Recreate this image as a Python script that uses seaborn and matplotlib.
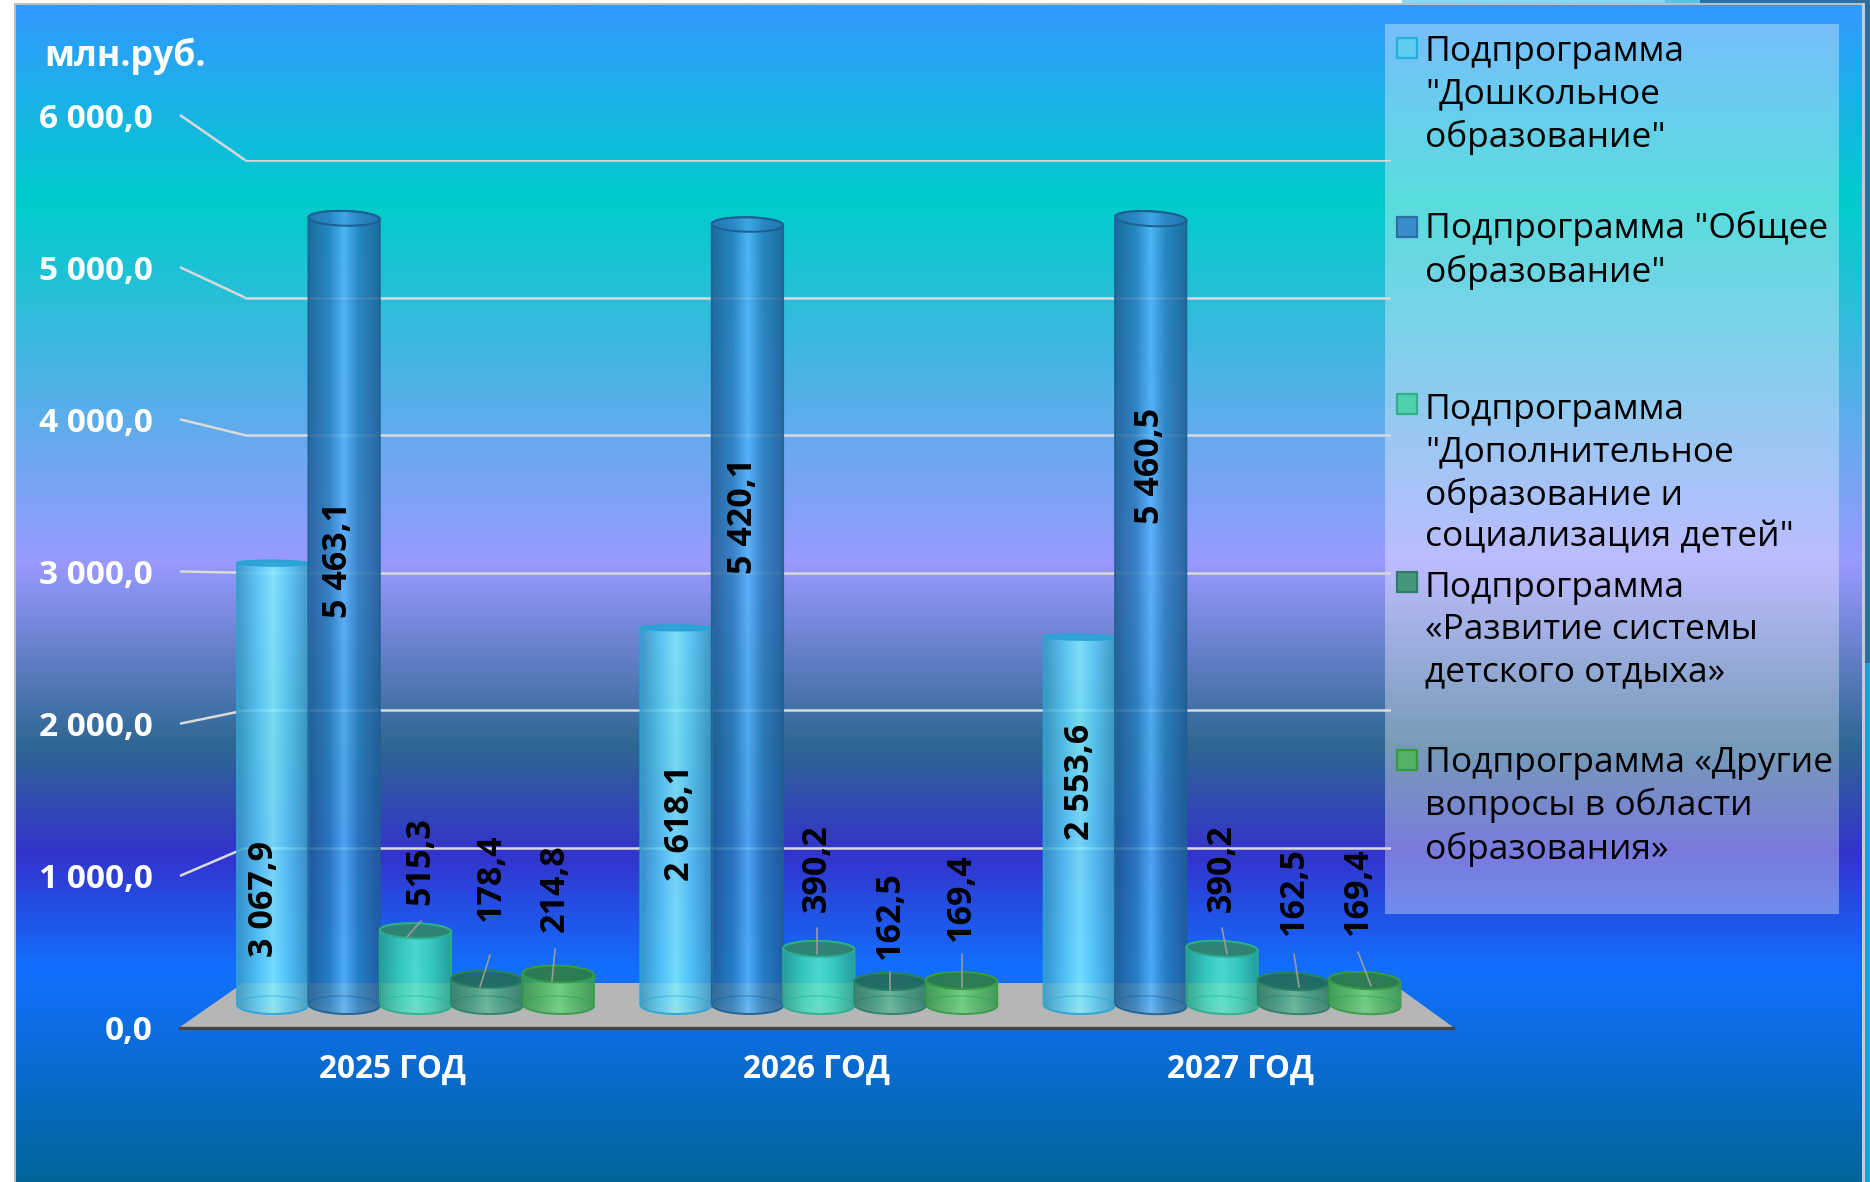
import numpy as np
import pandas as pd
import matplotlib
matplotlib.use("Agg")
import matplotlib.pyplot as plt
from matplotlib.colors import LinearSegmentedColormap, to_rgb, to_rgba
from matplotlib.patches import Polygon, PathPatch, Rectangle
from matplotlib.path import Path
import seaborn as sns

# ---------- data ----------
years = ["2025 ГОД", "2026 ГОД", "2027 ГОД"]
programs = [
    'Подпрограмма\n"Дошкольное\nобразование"',
    'Подпрограмма "Общее\nобразование"',
    'Подпрограмма\n"Дополнительное\nобразование и\nсоциализация детей"',
    'Подпрограмма\n«Развитие системы\nдетского отдыха»',
    'Подпрограмма «Другие\nвопросы в области\nобразования»',
]
values_preschool = [3067.9, 2618.1, 2553.6]
values_general = [5463.1, 5420.1, 5460.5]
values_additional = [515.3, 390.2, 390.2]
values_recreation = [178.4, 162.5, 162.5]
values_other = [214.8, 169.4, 169.4]
axis_ticks = [0, 1000, 2000, 3000, 4000, 5000, 6000]
axis_tick_labels = ["0,0", "1 000,0", "2 000,0", "3 000,0", "4 000,0", "5 000,0", "6 000,0"]
unit_label = "млн.руб."

# ---------- layout and style (pixels of the 1870x1182 picture) ----------
W, H = 1870, 1182
FONT = "Open Sans"
series_values = [values_preschool, values_general, values_additional, values_recreation, values_other]
base_colors = ["#5CD0F8", "#2A7FC0", "#3FD8BA", "#3F9A80", "#4DB862"]
edge_colors = ["#2AA4D4", "#1E5F92", "#2BAE8C", "#2C7F66", "#379A48"]
mid_colors = ["#86F0FF", "#59B8FF", "#55EACB", "#5FB89A", "#68D47C"]
dark_colors = ["#3B9CC8", "#1F5F96", "#27A890", "#2A7C68", "#349A4E"]
top_colors = ["#2AA0D8", "#2F86CB", "#2E8070", "#1F6A62", "#2A7A50"]
top_alphas = [0.9, 0.35, 0.95, 0.95, 0.95]
swatch_faces = ["#5FCDF0", "#3A8DC8", "#4FD0AE", "#45967C", "#55B068"]
swatch_edges = ["#22B0E0", "#2A6FA8", "#2FB08A", "#2E7E65", "#35993F"]
legend_baselines = [60, 238, 416, 594, 772]
legend_swatch_tops = [38, 217, 394, 572, 750]
tilt_by_year = [1.5, 1.0, 3.0]
tilt_by_series = [0.3, 1, 1, 1, 1]
# label centres, (year, series) order
label_xy = [
    [(264, 899), (338, 560), (420, 861), (491, 877), (555, 888)],
    [(680, 823), (743, 516), (817, 868), (890, 915), (961, 897)],
    [(1080, 782), (1150, 466), (1222, 868), (1294, 891), (1358, 891)],
]
leaders = [
    ((407, 937), (421, 921)), ((480, 987), (490, 955)), ((552, 981), (555, 949)),
    ((817, 954), (817, 928)), ((890, 990), (890, 972)), ((962, 987), (962, 954)),
    ((1227, 954), (1222, 928)), ((1299, 987), (1294, 954)), ((1371, 986), (1358, 952)),
]
grad_pos = [5, 200, 562, 746, 855, 972, 1182]
grad_col = ["#3399FF", "#00CCCC", "#9999FF", "#2E6792", "#3333CC", "#1170FF", "#006699"]

sns.set_theme(style="white")
plt.rcParams["font.family"] = [FONT, "DejaVu Sans"]

fig = plt.figure(figsize=(W / 100, H / 100), dpi=100, facecolor="white")


def px_axes(x0, x1, ytop, ybot, z):
    ax = fig.add_axes([x0 / W, 1 - ybot / H, (x1 - x0) / W, (ybot - ytop) / H], zorder=z)
    ax.patch.set_alpha(0)
    return ax


# ---------- background ----------
bg = px_axes(0, W, 0, H, 0)
bg.set_axis_off()
stops = [(p - grad_pos[0]) / (grad_pos[-1] - grad_pos[0]) for p in grad_pos]
cmap = LinearSegmentedColormap.from_list("ocean", list(zip(stops, grad_col)), N=512)
bg.imshow(np.linspace(0, 1, 600)[:, None], cmap=cmap, aspect="auto",
          extent=(15, 1863, grad_pos[-1], grad_pos[0]), interpolation="bilinear")
bg.add_patch(Rectangle((14, 3), 2, H, fc="#BEBEBE", ec="none"))
bg.add_patch(Rectangle((14, 3), 1850, 2, fc="#BEBEBE", ec="none"))
bg.add_patch(Rectangle((1862, 3), 2.5, H, fc="#C4CCD0", ec="none"))
bg.add_patch(Rectangle((1864.5, 0), 6, 663, fc="#2B6E9F", ec="none"))
bg.add_patch(Rectangle((1864.5, 663), 6, H, fc="#1E9FD8", ec="none"))
bg.add_patch(Rectangle((1402, 0), 263, 3, fc="#8AD6EC", ec="none"))
bg.add_patch(Rectangle((1665, 0), 35, 3, fc="#5FC3E0", ec="none"))
bg.add_patch(Rectangle((1700, 0), 170, 3, fc="#2E6F9E", ec="none"))
# legend panel
bg.add_patch(Rectangle((1385, 24), 454, 890, fc="white", alpha=0.35, ec="none"))
# floor
bg.add_patch(Polygon([(180, 1027), (243, 983), (1392, 983), (1453, 1027)], fc="#B6B6B6", ec="none"))
bg.set_xlim(0, W)
bg.set_ylim(H, 0)

# ---------- back wall with its grid lines ----------
wall = px_axes(245, 1391, 160, 985.6, 1)
wall.set_ylim(0, 6000)
wall.set_xlim(0, 1)
wall.set_yticks(axis_ticks[1:])
wall.set_xticks([])
wall.tick_params(left=False, labelleft=False)
wall.grid(axis="y", color="#DADADA", lw=1.8)
sns.despine(ax=wall, left=True, bottom=True)

# ---------- front axis: tick labels and category labels ----------
front = px_axes(180, 1453, 115, 1028, 5)
front.set_xlim(-0.5, 2.5)
front.set_ylim(0, 6000)
front.set_xticks(range(3))
front.set_xticklabels(years, fontsize=22.7, fontweight="bold", color="white")
front.set_yticks(axis_ticks)
front.set_yticklabels(axis_tick_labels, fontsize=24, fontweight="bold", color="white")
front.tick_params(axis="x", length=0, pad=18)
front.tick_params(axis="y", length=0, pad=19.5)
sns.despine(ax=front, left=True)
front.spines["bottom"].set_color("#444444")
front.spines["bottom"].set_linewidth(2.4)

# diagonal connectors between the front axis and the back wall
for v in axis_ticks[1:]:
    p0 = front.transData.transform((-0.5, v))
    p1 = wall.transData.transform((0, v))
    bg.plot([p0[0], p1[0]], [H - p0[1], H - p1[1]], color="#DADADA", lw=1.8, solid_capstyle="butt")

# ---------- bars through seaborn ----------
df = pd.DataFrame({
    "year": np.tile(years, len(programs)),
    "program": np.repeat(programs, len(years)),
    "value": np.concatenate(series_values),
})
barax = px_axes(213.85, 1423.75, 141, 1005, 3)
sns.barplot(data=df, x="year", y="value", hue="program", order=years, hue_order=programs,
            palette=dict(zip(programs, base_colors)), width=0.885, gap=0, saturation=1,
            legend=False, ax=barax)
barax.set_xlim(-0.5, 2.5)
barax.set_ylim(0, 6000)
barax.set_axis_off()

# ---------- cylinder shading derived from the seaborn bars ----------
over = px_axes(0, W, 0, H, 4)
over.set_axis_off()
over.set_xlim(0, W)
over.set_ylim(H, 0)


def ellipse_pts(cx, cy, a, b, deg, t0, t1, n=48):
    t = np.linspace(t0, t1, n)
    th = np.radians(deg)
    return np.c_[cx + a * np.cos(t) * np.cos(th) - b * np.sin(t) * np.sin(th),
                 cy + a * np.cos(t) * np.sin(th) + b * np.sin(t) * np.cos(th)]


def rim_half(v):
    return max(2.6, 9.0 * abs(v - 3000) / 3000)


bars_by_series = [c.patches for c in barax.containers]
for yi in range(len(years)):
    for si in range(len(programs)):
        bar = bars_by_series[si][yi]
        bar.set_alpha(0.3)
        bar.set_edgecolor("none")
        v = bar.get_height()
        (x0, ybase), (x1, ytop) = barax.transData.transform(
            [(bar.get_x(), 0), (bar.get_x() + bar.get_width(), v)])
        ybase, ytop = H - ybase, H - ytop
        cx, a = (x0 + x1) / 2, (x1 - x0) / 2
        deg = tilt_by_year[yi] * tilt_by_series[si]
        bb, bt = 9.0, rim_half(v)
        outline = np.vstack([ellipse_pts(cx, ytop, a, bt, deg, np.pi, 2 * np.pi),
                             ellipse_pts(cx, ybase, a, bb, deg, 0, np.pi)])
        clip = PathPatch(Path(np.vstack([outline, outline[0]]), closed=True), fc="none", ec="none")
        over.add_patch(clip)
        # horizontal shading across the cylinder
        xs = np.array([0, 0.05, 0.3, 0.5, 0.7, 0.95, 1.0])
        cols = np.array([to_rgb(c) for c in (
            dark_colors[si], dark_colors[si], base_colors[si], mid_colors[si],
            base_colors[si], dark_colors[si], dark_colors[si])])
        grid = np.linspace(0, 1, 128)
        rgb = np.stack([np.interp(grid, xs, cols[:, k]) for k in range(3)], axis=1)
        rgba = np.dstack([rgb[None, :, :], np.full((1, 128), 0.8)])
        im = over.imshow(rgba, aspect="auto", interpolation="bilinear",
                         extent=(x0 - 1, x1 + 1, ybase + 14, ytop - bt - 4))
        im.set_clip_path(clip)
        over.add_patch(PathPatch(clip.get_path(), fc="none", ec=edge_colors[si], lw=1.4, alpha=0.9))
        # base rim seen through the cylinder
        over.plot(*ellipse_pts(cx, ybase, a, bb, deg, np.pi, 2 * np.pi).T,
                  color=edge_colors[si], lw=1, alpha=0.45)
        # top cap
        over.add_patch(Polygon(ellipse_pts(cx, ytop, a, bt, deg, 0, 2 * np.pi), closed=True,
                               fc=to_rgba(top_colors[si], top_alphas[si]),
                               ec=edge_colors[si], lw=1.4))
over.set_xlim(0, W)
over.set_ylim(H, 0)

# ---------- data labels and leader lines ----------
top = px_axes(0, W, 0, H, 6)
top.set_axis_off()
top.set_xlim(0, W)
top.set_ylim(H, 0)
for (p0, p1) in leaders:
    top.plot([p0[0], p1[0]], [p0[1], p1[1]], color="#9A9A9A", lw=1.2)
for yi in range(len(years)):
    for si in range(len(programs)):
        txt = f"{series_values[si][yi]:,.1f}".replace(",", " ").replace(".", ",")
        x, y = label_xy[yi][si]
        top.text(x, y, txt, rotation=90, ha="center", va="center", fontsize=24.5,
                 fontweight="bold", color="black")

# ---------- unit label and legend ----------
top.text(44, 66, unit_label, fontsize=25.7, fontweight="bold", color="white", va="baseline", ha="left")
for si, label in enumerate(programs):
    n = label.count("\n")
    top.text(1425, legend_baselines[si] + n * 43.5, label, fontsize=25.5, color="black",
             ha="left", va="baseline", linespacing=1.306)
    top.add_patch(Rectangle((1397, legend_swatch_tops[si]), 20, 20, fc=swatch_faces[si],
                            ec=swatch_edges[si], lw=1.6))

fig.savefig("out.png", dpi=100)
